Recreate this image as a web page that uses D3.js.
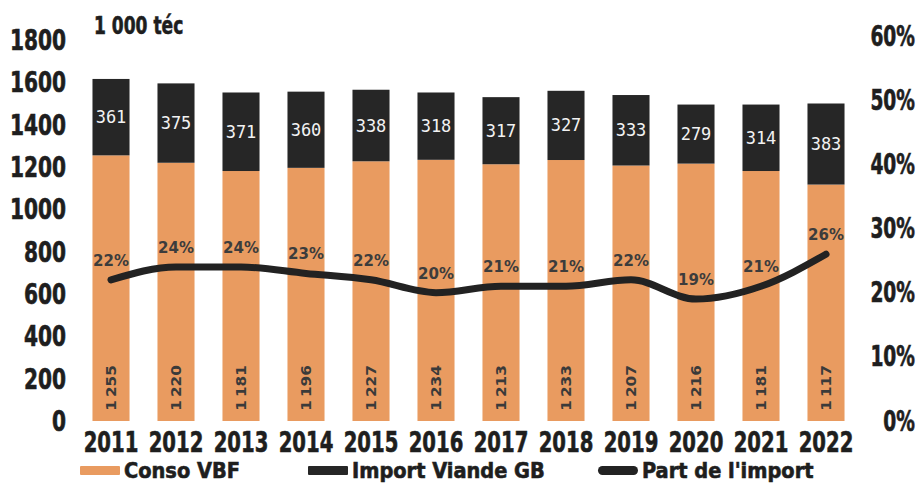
<!DOCTYPE html>
<html>
<head>
<meta charset="utf-8">
<script src="https://cdn.jsdelivr.net/npm/d3@7"></script>
<style>
  html, body { margin: 0; padding: 0; background: #fff; }
  svg { display: block; }
</style>
</head>
<body>
<svg id="chart" width="918" height="488"></svg>
<script>
// Consommation de viande bovine en France et part de l'import (1 000 téc)
const years = ["2011","2012","2013","2014","2015","2016","2017","2018","2019","2020","2021","2022"];
const conso = [1255, 1220, 1181, 1196, 1227, 1234, 1213, 1233, 1207, 1216, 1181, 1117];
const imports = [361, 375, 371, 360, 338, 318, 317, 327, 333, 279, 314, 383];
const share = [22, 24, 24, 23, 22, 20, 21, 21, 22, 19, 21, 26];
const leftTicks = [0, 200, 400, 600, 800, 1000, 1200, 1400, 1600, 1800];
const rightTicks = [0, 10, 20, 30, 40, 50, 60];
const legendItems = ["Conso VBF", "Import Viande GB", "Part de l'import"];

const ORANGE = "#e99b60";
const DARK = "#262626";
const HEAVY = "'DejaVu Sans Condensed', 'DejaVu Sans', sans-serif";

const svg = d3.select("#chart");

const x = d3.scaleBand().domain(years).range([78.5, 858.5]).paddingInner(0.43).paddingOuter(0.215);
const y = d3.scaleLinear().domain([0, 1800]).range([421, 40]);
const y2 = d3.scaleLinear().domain([0, 60]).range([421, 36]);

const frNum = d3.formatLocale({ decimal: ",", thousands: "\u2009", grouping: [3], currency: ["", " €"] }).format(",");

// condensed heavy text: regular glyphs squeezed horizontally
function heavyText(g, tx, ty, str, size, anchor, sx) {
  return g.append("text")
    .attr("transform", `translate(${tx},${ty}) scale(${sx},1)`)
    .attr("text-anchor", anchor)
    .attr("dominant-baseline", "central")
    .attr("font-family", HEAVY)
    .attr("font-weight", "bold")
    .attr("font-size", size)
    .attr("fill", "#1e1e1e")
    .attr("stroke", "#1e1e1e")
    .attr("stroke-width", 0.6)
    .text(str);
}

// left axis labels
const gl = svg.append("g").attr("class", "axis-left");
leftTicks.forEach(t => heavyText(gl, 66, y(t), String(t), 28, "end", 0.8));

// right axis labels
const gr = svg.append("g").attr("class", "axis-right");
rightTicks.forEach(t => heavyText(gr, 915, y2(t), t + "%", 28, "end", 0.74));

// unit label
heavyText(svg, 94, 25, "1 000 téc", 25, "start", 0.76);

// stacked bars
const bars = svg.append("g").attr("class", "bars");
years.forEach((yr, i) => {
  const bx = x(yr), bw = x.bandwidth();
  bars.append("rect")
    .attr("x", bx).attr("width", bw)
    .attr("y", y(conso[i])).attr("height", y(0) - y(conso[i]))
    .attr("fill", ORANGE);
  bars.append("rect")
    .attr("x", bx).attr("width", bw)
    .attr("y", y(conso[i] + imports[i])).attr("height", y(conso[i]) - y(conso[i] + imports[i]))
    .attr("fill", DARK);
});

// import values inside the dark segments
const impLabels = svg.append("g").attr("class", "import-labels");
years.forEach((yr, i) => {
  impLabels.append("text")
    .attr("x", x(yr) + x.bandwidth() / 2)
    .attr("y", (y(conso[i]) + y(conso[i] + imports[i])) / 2)
    .attr("text-anchor", "middle")
    .attr("dominant-baseline", "central")
    .attr("font-family", "'DejaVu Sans Mono', monospace")
    .attr("font-size", 17)
    .attr("fill", "#f2f2f2")
    .text(imports[i]);
});

// consumption values, vertical, near the base
const consoLabels = svg.append("g").attr("class", "conso-labels");
years.forEach((yr, i) => {
  consoLabels.append("text")
    .attr("transform", `translate(${x(yr) + x.bandwidth() / 2},${y(0) - 33}) rotate(-90) scale(1,0.85)`)
    .attr("text-anchor", "middle")
    .attr("dominant-baseline", "central")
    .attr("font-family", HEAVY)
    .attr("font-weight", "bold")
    .attr("font-size", 17)
    .attr("fill", "#3a3a3a")
    .text(frNum(conso[i]));
});

// import share line
const line = d3.line()
  .x((d, i) => x(years[i]) + x.bandwidth() / 2)
  .y(d => y2(d))
  .curve(d3.curveMonotoneX);
svg.append("path")
  .datum(share)
  .attr("d", line)
  .attr("fill", "none")
  .attr("stroke", "#222")
  .attr("stroke-width", 7)
  .attr("stroke-linecap", "round")
  .attr("stroke-linejoin", "round");

// share labels
const shareLabels = svg.append("g").attr("class", "share-labels");
share.forEach((v, i) => {
  shareLabels.append("text")
    .attr("x", x(years[i]) + x.bandwidth() / 2)
    .attr("y", y2(v) - 19)
    .attr("text-anchor", "middle")
    .attr("dominant-baseline", "central")
    .attr("font-family", "'DejaVu Sans', sans-serif")
    .attr("font-weight", "bold")
    .attr("font-size", 15)
    .attr("fill", "#3c3c3c")
    .text(v + "%");
});

// year labels
const gx = svg.append("g").attr("class", "axis-bottom");
years.forEach(yr => heavyText(gx, x(yr) + x.bandwidth() / 2, 443, yr, 28, "middle", 0.78));

// legend
const legend = svg.append("g").attr("class", "legend");
const legendPos = [80, 308, 598];
const legendColors = [ORANGE, DARK, "#222"];
legendItems.forEach((name, i) => {
  legend.append("rect")
    .attr("x", legendPos[i]).attr("y", 466)
    .attr("width", 40).attr("height", 9)
    .attr("rx", i === 2 ? 4.5 : 1)
    .attr("fill", legendColors[i]);
  heavyText(legend, legendPos[i] + 44, 470, name, 22, "start", 0.98);
});
</script>
</body>
</html>
